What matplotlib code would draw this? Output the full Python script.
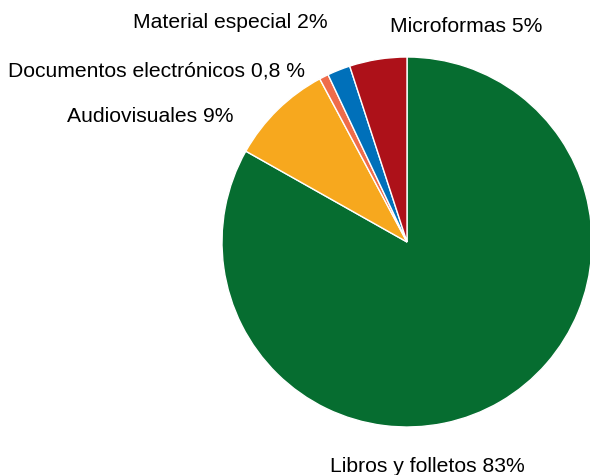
import matplotlib.pyplot as plt

plt.rcParams['font.family'] = ['Liberation Sans', 'DejaVu Sans']

labels = ['Libros y folletos 83%', 'Audiovisuales 9%', 'Documentos electrónicos 0,8 %',
          'Material especial 2%', 'Microformas 5%']
values = [83, 9, 0.8, 2, 5]
colors = ['#066d30', '#f7a81e', '#ef6c4a', '#0070ba', '#ad1119']
# label anchor positions in pixels (left edge, vertical centre)
label_px = [(330, 466), (67, 117), (8, 71), (133, 22), (390, 27)]

W, H = 590, 475
cx, cy, r = 407, 242, 185

fig = plt.figure(figsize=(W / 100, H / 100), dpi=100)
ax = fig.add_axes([0, 0, 1, 1])
ax.pie(values, colors=colors, startangle=90, counterclock=False, radius=1,
       wedgeprops=dict(edgecolor='white', linewidth=1))
ax.set_xlim(-cx / r, (W - cx) / r)
ax.set_ylim((cy - H) / r, cy / r)
ax.set_aspect('auto')
ax.set_axis_off()

for lab, (px, py) in zip(labels, label_px):
    ax.text((px - cx) / r, (cy - py) / r, lab, ha='left', va='center', fontsize=15.2)

fig.savefig('out.png', dpi=100)
